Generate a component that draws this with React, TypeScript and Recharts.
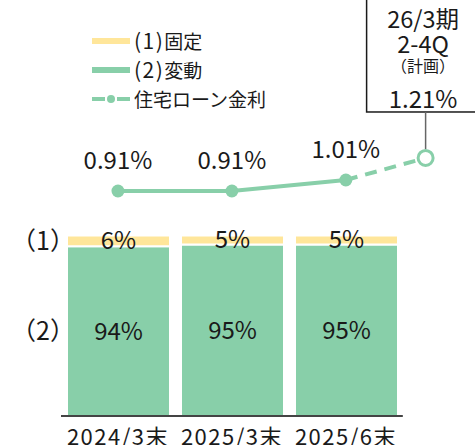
import React from "react";
import {
  ComposedChart,
  Bar,
  Line,
  XAxis,
  YAxis,
  LabelList,
  ReferenceLine,
  Legend,
} from "recharts";

// Chart values
const categories = ["2024/3末", "2025/3末", "2025/6末"];
const fixedShare = [6, 5, 5]; // (1)固定
const variableShare = [94, 95, 95]; // (2)変動
const loanRate = [0.91, 0.91, 1.01]; // 住宅ローン金利 actuals
const planRate = 1.21; // 26/3期 2-4Q 計画
const planTitle = ["26/3期", "2-4Q", "（計画）"];
const legendKeys = ["(1)", "(2)", ""];
const legendLabels = ["固定", "変動", "住宅ローン金利"];
const fixedTag = "（1）";
const variableTag = "（2）";
const title = "【自己居住用住宅ローン】";

// Styles
const FONT = '"Noto Sans CJK JP", "Noto Sans", sans-serif';
const YELLOW = "#FFE69A";
const GREEN = "#88CFA9";
const TEXT = "#1a1a1a";
const PLAN_X = 2.7; // plan point sits between the last bar and the right edge

const barData = categories.map((name, i) => ({
  name,
  fixed: fixedShare[i],
  variable: variableShare[i],
}));

const solidData = loanRate.map((rate, i) => ({ x: i, rate }));
const planData = [
  { x: loanRate.length - 1, rate: loanRate[loanRate.length - 1] },
  { x: PLAN_X, rate: planRate },
];

const pct = (v: number) => `${v}%`;

// "(1)" / "(2)" tags drawn to the left of the first bar's segments
const segmentTag = (tag: string) => (props: any) => {
  if (props.index !== 0) return null;
  const vb = props.viewBox || props;
  const x = vb.x ?? props.x;
  const y = (vb.y ?? props.y) + (vb.height ?? props.height) / 2;
  return (
    <text
      key={`tag-${tag}`}
      x={x + 8}
      y={y}
      dy="0.35em"
      textAnchor="end"
      fontSize={25}
      fill={TEXT}
      fontFamily={FONT}
    >
      {tag}
    </text>
  );
};

const renderPlanDot = (props: any) => {
  const { cx, cy, index } = props;
  if (index !== planData.length - 1) return <g key={`pd-${index}`} />;
  return (
    <circle
      key={`pd-${index}`}
      cx={cx}
      cy={cy}
      r={7.5}
      fill="#fff"
      stroke={GREEN}
      strokeWidth={3}
    />
  );
};

const renderPlanBox = (props: any) => {
  const { index } = props;
  if (index !== planData.length - 1) return null;
  const px = props.x ?? props.viewBox?.x;
  const py = props.y ?? props.viewBox?.y;
  const tx = px - 2.5;
  return (
    <g key="plan-box">
      <rect
        x={px - 59}
        y={py - 175}
        width={150}
        height={129}
        fill="#fff"
        stroke={TEXT}
        strokeWidth={1.5}
      />
      <line x1={px} y1={py - 46} x2={px} y2={py - 9} stroke="#666" strokeWidth={1.5} />
      <text x={tx} y={py - 140} textAnchor="middle" dominantBaseline="central" fontSize={23.5} fill={TEXT} fontFamily={FONT}>
        {planTitle[0]}
      </text>
      <text x={tx} y={py - 115} textAnchor="middle" dominantBaseline="central" fontSize={23.5} fill={TEXT} fontFamily={FONT}>
        {planTitle[1]}
      </text>
      <text x={tx} y={py - 93} textAnchor="middle" dominantBaseline="central" fontSize={16} fill={TEXT} fontFamily={FONT}>
        {planTitle[2]}
      </text>
      <text x={tx} y={py - 60} textAnchor="middle" dominantBaseline="central" fontSize={24} fill={TEXT} fontFamily={FONT}>
        {`${planRate.toFixed(2)}%`}
      </text>
    </g>
  );
};

const renderLegend = () => (
  <div style={{ fontFamily: FONT, fontSize: 19, color: TEXT, lineHeight: "29px" }}>
    {legendLabels.map((label, i) => (
      <div key={label} style={{ display: "flex", alignItems: "center", height: 29 }}>
        <svg width={42} height={14} style={{ marginRight: 2 }}>
          {i < 2 ? (
            <rect x={2} y={4} width={38} height={6} fill={i === 0 ? YELLOW : GREEN} />
          ) : (
            <g>
              <line x1={2} y1={7} x2={15} y2={7} stroke={GREEN} strokeWidth={4} />
              <circle cx={21} cy={7} r={4} fill={GREEN} />
              <line x1={27} y1={7} x2={40} y2={7} stroke={GREEN} strokeWidth={4} />
            </g>
          )}
        </svg>
        <span>
          {legendKeys[i] && (
            <span style={{ fontSize: 21, letterSpacing: 1.5 }}>{legendKeys[i]}</span>
          )}
          {label}
        </span>
      </div>
    ))}
  </div>
);

export default function App() {
  return (
    <div
      style={{
        position: "absolute",
        left: 0,
        top: 0,
        width: 475,
        height: 445,
        overflow: "hidden",
        background: "#fff",
        fontFamily: FONT,
      }}
    >
      <div
        style={{
          position: "absolute",
          left: 107,
          top: -25,
          fontSize: 20.5,
          fontWeight: 700,
          color: TEXT,
          lineHeight: "24px",
          whiteSpace: "nowrap",
        }}
      >
        {title}
      </div>
      <ComposedChart
        width={475}
        height={445}
        data={barData}
        margin={{ top: 100, right: 38, bottom: 0, left: 0 }}
      >
        <XAxis
          xAxisId="cat"
          dataKey="name"
          type="category"
          height={29}
          axisLine={false}
          tickLine={false}
          tickSize={0}
          tickMargin={13}
          interval={0}
          padding={{ left: 0, right: 34 }}
          tick={{ fontSize: 22, fill: TEXT, fontFamily: FONT, letterSpacing: 1.5 }}
        />
        <XAxis xAxisId="line" type="number" dataKey="x" domain={[-0.5, 2.8]} hide />
        <YAxis
          yAxisId="share"
          type="number"
          domain={[0, 175]}
          width={61}
          axisLine={false}
          tickLine={false}
          tick={false}
        />
        <YAxis yAxisId="rate" type="number" domain={[-1.135, 1.737]} hide />

        <Legend
          layout="vertical"
          align="center"
          verticalAlign="middle"
          content={renderLegend}
          wrapperStyle={{ top: 26, left: 90, width: "auto", height: "auto" }}
        />

        <Bar
          xAxisId="cat"
          yAxisId="share"
          dataKey="variable"
          stackId="s"
          fill={GREEN}
          stroke="#fff"
          strokeWidth={2}
          barSize={103}
          isAnimationActive={false}
        >
          <LabelList dataKey="variable" position="center" formatter={pct} fill={TEXT} fontSize={24} fontFamily={FONT} />
          <LabelList dataKey="variable" content={segmentTag(variableTag)} />
        </Bar>
        <Bar
          xAxisId="cat"
          yAxisId="share"
          dataKey="fixed"
          stackId="s"
          fill={YELLOW}
          stroke="#fff"
          strokeWidth={2}
          barSize={103}
          isAnimationActive={false}
        >
          <LabelList dataKey="fixed" position="center" formatter={pct} fill={TEXT} fontSize={24} fontFamily={FONT} />
          <LabelList dataKey="fixed" content={segmentTag(fixedTag)} />
        </Bar>

        <ReferenceLine
          xAxisId="line"
          yAxisId="share"
          segment={[
            { x: -0.5, y: 0 },
            { x: 2.5, y: 0 },
          ]}
          stroke="#444"
          strokeWidth={2}
        />

        <Line
          xAxisId="line"
          yAxisId="rate"
          data={planData}
          dataKey="rate"
          stroke={GREEN}
          strokeWidth={4}
          strokeDasharray="12 8"
          dot={renderPlanDot}
          activeDot={false}
          isAnimationActive={false}
        >
          <LabelList dataKey="rate" content={renderPlanBox} />
        </Line>
        <Line
          xAxisId="line"
          yAxisId="rate"
          data={solidData}
          dataKey="rate"
          stroke={GREEN}
          strokeWidth={4}
          dot={{ r: 6.5, fill: GREEN, stroke: GREEN, strokeWidth: 0 }}
          activeDot={false}
          isAnimationActive={false}
        >
          <LabelList
            dataKey="rate"
            position="top"
            offset={22}
            formatter={(v: number) => `${v.toFixed(2)}%`}
            fill={TEXT}
            fontSize={24}
            fontFamily={FONT}
          />
        </Line>
      </ComposedChart>
    </div>
  );
}
